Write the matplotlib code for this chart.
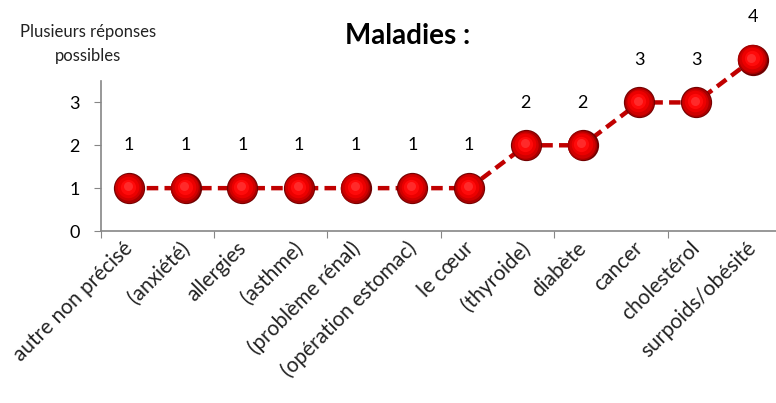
import matplotlib
matplotlib.use("Agg")
import matplotlib.pyplot as plt
from matplotlib.transforms import ScaledTranslation
import numpy as np

categories = ["autre non précisé", "(anxiété)", "allergies", "(asthme)",
              "(problème rénal)", "(opération estomac)", "le cœur", "(thyroide)",
              "diabète", "cancer", "cholestérol", "surpoids/obésité"]
values = [1, 1, 1, 1, 1, 1, 1, 2, 2, 3, 3, 4]
yticks = [0, 1, 2, 3]

plt.rcParams['font.family'] = ['Lato', 'DejaVu Sans']

W, H = 776, 403
fig = plt.figure(figsize=(W / 100, H / 100), dpi=100)
ax = fig.add_axes([100.6 / W, 1 - 231 / H, 680.4 / W, 150 / H])

x = np.arange(len(categories))
ax.plot(x, values, color="#c00000", lw=3.2, ls=(0, (2.6, 1.4)), zorder=2, clip_on=False)

# shaded spheres: stacked circles from dark rim to bright core
shades = [("#6e0000", 22.5, 0, 0), ("#a80000", 21.2, -0.2, 0.2), ("#d00000", 19, -0.4, 0.5),
          ("#ec0000", 15.5, -0.6, 0.8), ("#ff0a0a", 11, -0.8, 1.1), ("#ff2a2a", 6.5, -0.9, 1.3)]
for col, ms, dx, dy in shades:
    off = ax.transData + ScaledTranslation(dx / 72, dy / 72, fig.dpi_scale_trans)
    ax.plot(x, values, ls="none", marker="o", ms=ms, color=col, mec="none", zorder=3,
            clip_on=False, transform=off)

for xi, yi in zip(x, values):
    ax.annotate(str(yi), (xi, yi), xytext=(0, 25), textcoords="offset points",
                ha="center", va="bottom", fontsize=13, color="#000000",
                annotation_clip=False)

ax.set_xlim(-0.5, len(categories) - 0.5)
ax.set_ylim(0, 3.5)
ax.set_yticks(yticks)
ax.set_yticklabels([str(v) for v in yticks], fontsize=13)

# boundary tick marks every second category; labels on hidden minor ticks,
# nudged left so each rotated label ends just under its marker
ax.set_xticks(np.arange(-0.5, len(categories), 2))
ax.set_xticklabels([])
ax.set_xticks(x - 0.11, minor=True)
ax.set_xticklabels(categories, minor=True, rotation=45, ha="right", va="top",
                   rotation_mode="anchor", fontsize=15, color="#222222")
ax.tick_params(axis="x", which="minor", length=0, pad=5)
ax.tick_params(axis="x", which="major", length=5, color="#868686", direction="out")
ax.tick_params(axis="y", length=5, color="#868686", direction="out", pad=10)

for s in ["top", "right"]:
    ax.spines[s].set_visible(False)
for s in ["left", "bottom"]:
    ax.spines[s].set_color("#868686")
    ax.spines[s].set_linewidth(1.2)

fig.text(408 / W, 1 - 36 / H, "Maladies :", ha="center", va="center",
         fontsize=20, fontweight="bold")
fig.text(88 / W, 1 - 44 / H, "Plusieurs réponses\npossibles", ha="center", va="center",
         fontsize=12, color="#222222", linespacing=1.6)

fig.savefig("out.png", dpi=100)
